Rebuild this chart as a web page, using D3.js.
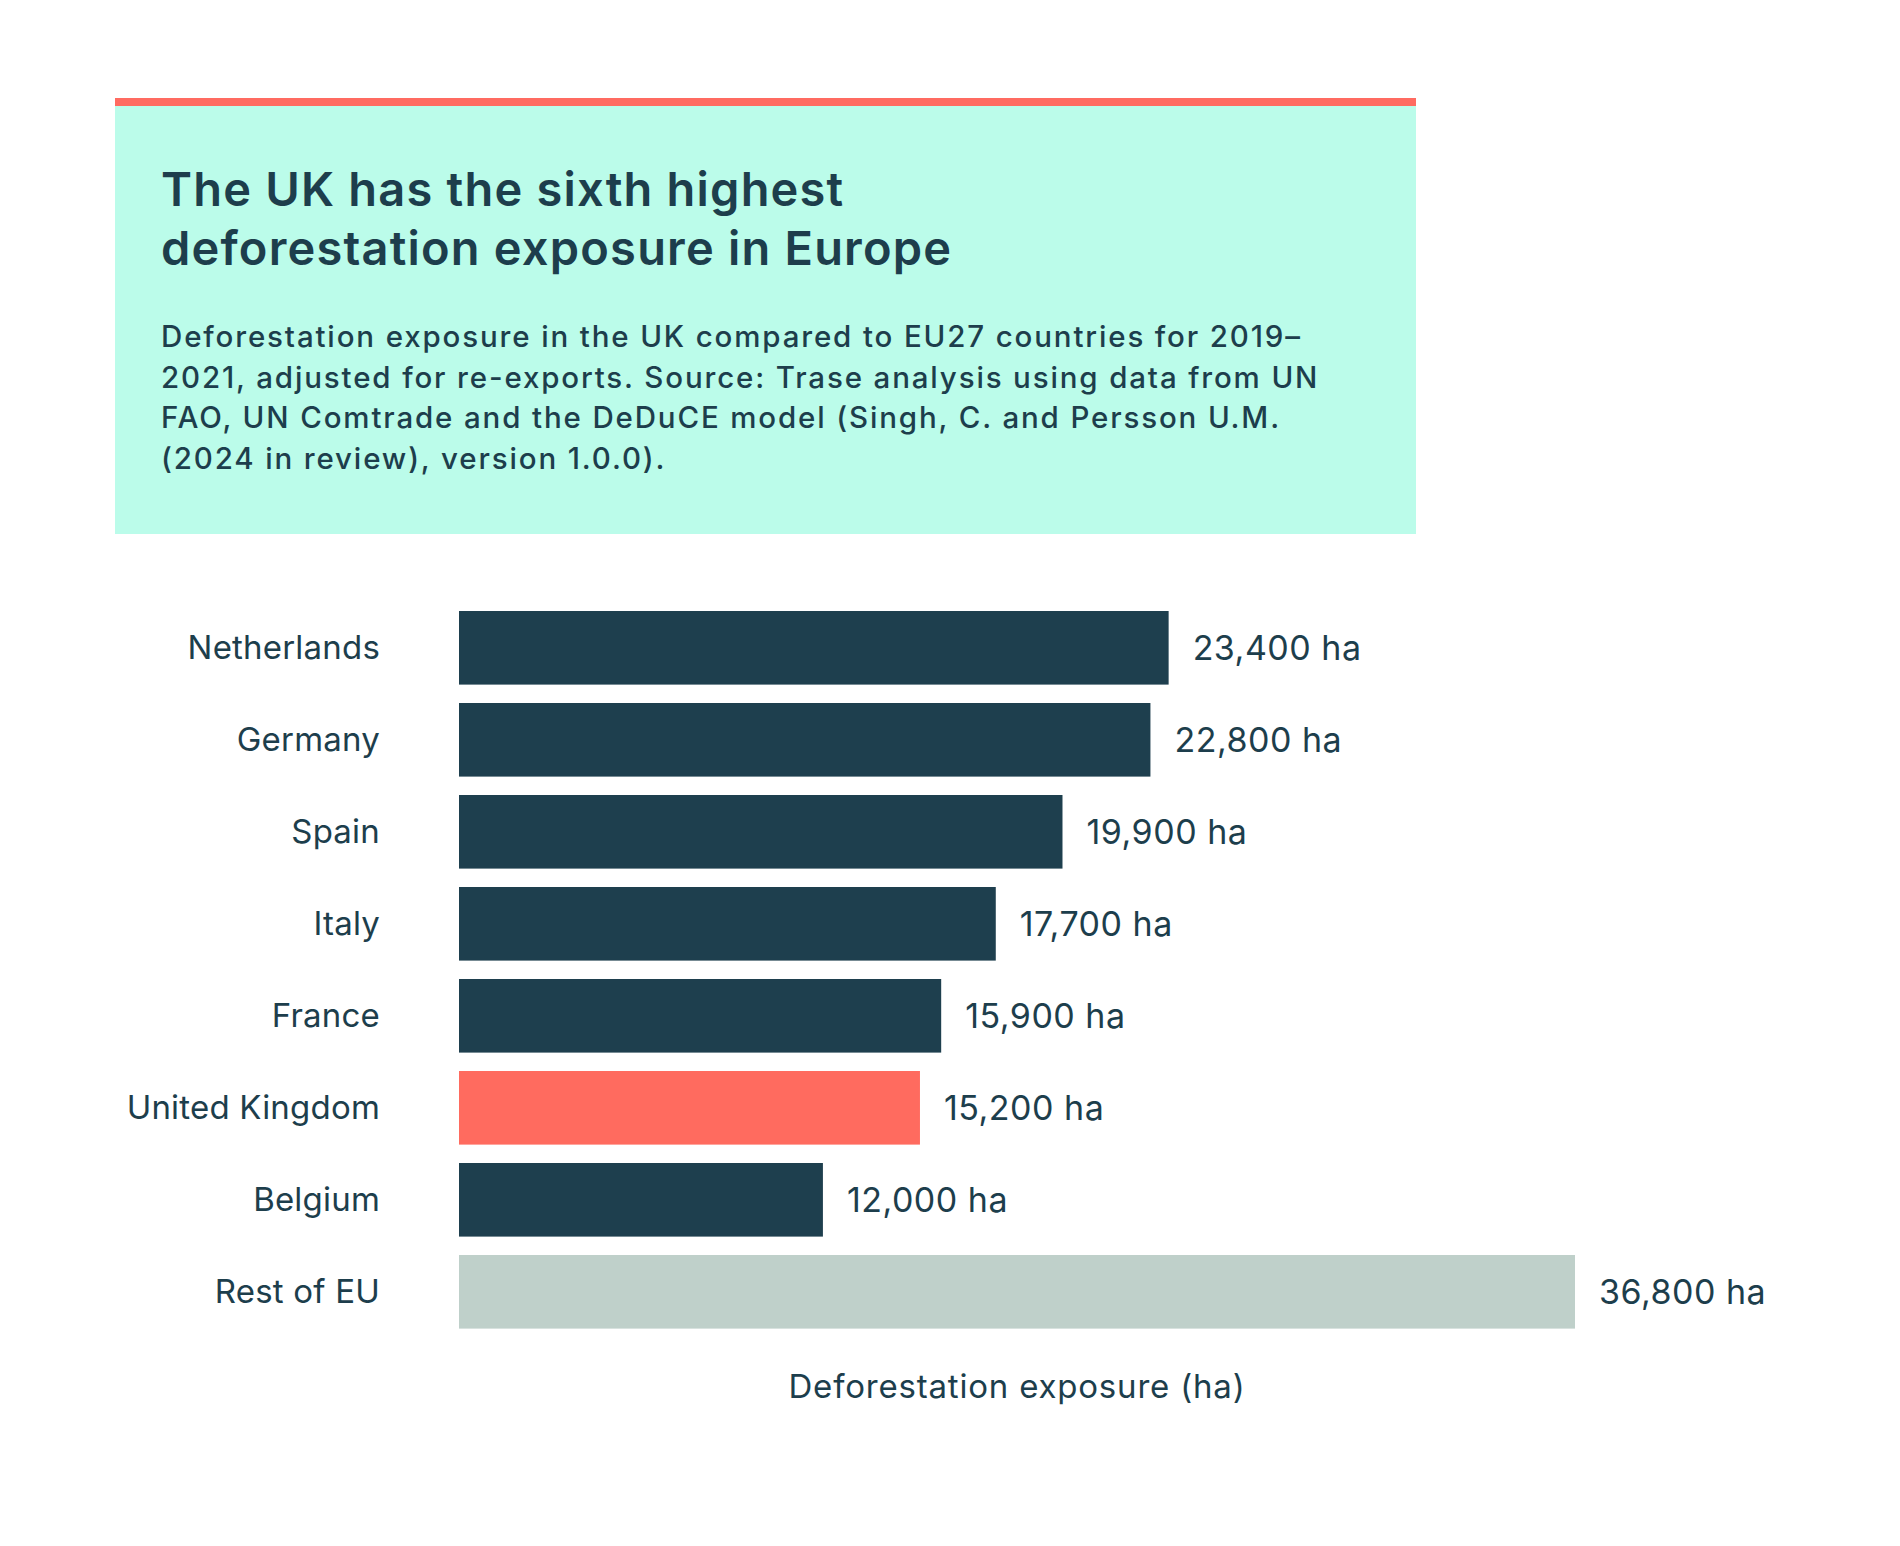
<!DOCTYPE html>
<html>
<head>
<meta charset="utf-8">
<script src="https://cdn.jsdelivr.net/npm/d3@7"></script>
<style>
  html, body { margin: 0; padding: 0; background: #ffffff; }
  svg { display: block; }
  text { font-family: Inter, "Noto Sans", sans-serif; fill: #1d3e4c; }
</style>
</head>
<body>
<svg id="chart" width="1900" height="1546"></svg>
<script>
// ---- data ----
const categories = ["Netherlands", "Germany", "Spain", "Italy", "France", "United Kingdom", "Belgium", "Rest of EU"];
const values = [23400, 22800, 19900, 17700, 15900, 15200, 12000, 36800];
const barGroups = ["country", "country", "country", "country", "country", "uk", "country", "rest"];
const titleLines = ["The UK has the sixth highest", "deforestation exposure in Europe"];
const subtitleLines = [
  "Deforestation exposure in the UK compared to EU27 countries for 2019\u2013",
  "2021, adjusted for re-exports. Source: Trase analysis using data from UN",
  "FAO, UN Comtrade and the DeDuCE model (Singh, C. and Persson U.M.",
  "(2024 in review), version 1.0.0)."
];
const axisTitle = "Deforestation exposure (ha)";
const unitSuffix = " ha";

// ---- styles ----
const colors = { country: "#1e3f4e", uk: "#ff6b5f", rest: "#bfd0ca" };
const mint = "#bbfcea";
const accent = "#ff6b61";
const ink = "#1d3e4c";

const svg = d3.select("#chart");
svg.append("rect").attr("width", 1900).attr("height", 1546).attr("fill", "#ffffff");

// ---- header box ----
const box = { x: 115, y: 98, w: 1301, accentH: 8, bottom: 534 };
svg.append("rect").attr("x", box.x).attr("y", box.y + box.accentH)
  .attr("width", box.w).attr("height", box.bottom - box.y - box.accentH).attr("fill", mint);
svg.append("rect").attr("x", box.x).attr("y", box.y)
  .attr("width", box.w).attr("height", box.accentH).attr("fill", accent);

svg.append("g").selectAll("text").data(titleLines).join("text")
  .attr("x", 161).attr("y", (d, i) => 206 + i * 59)
  .attr("font-size", 47).attr("font-weight", 600)
  .attr("letter-spacing", 1.2)
  .style("fill", ink)
  .text(d => d);

svg.append("g").selectAll("text").data(subtitleLines).join("text")
  .attr("x", 161).attr("y", (d, i) => 347 + i * 40.7)
  .attr("font-size", 29.5).attr("font-weight", 500)
  .attr("letter-spacing", 1.85)
  .style("fill", ink)
  .text(d => d);

// ---- bar chart ----
const xLeft = 459;
const x = d3.scaleLinear().domain([0, d3.max(values)]).range([xLeft, 1575]);
const y = d3.scaleBand().domain(categories).range([601.8, 1337.8]).paddingInner(0.2).paddingOuter(0.1);

const rows = categories.map((c, i) => ({ c, v: values[i], g: barGroups[i] }));

svg.append("g").selectAll("rect").data(rows).join("rect")
  .attr("x", x(0))
  .attr("y", d => y(d.c))
  .attr("width", d => x(d.v) - x(0))
  .attr("height", y.bandwidth())
  .attr("fill", d => colors[d.g]);

// category labels (axis)
const yAxis = d3.axisLeft(y).tickSize(0).tickPadding(0);
const ya = svg.append("g").attr("transform", "translate(380,0)").call(yAxis);
ya.select(".domain").remove();
ya.selectAll("text")
  .attr("font-size", 33).attr("font-family", "Inter, 'Noto Sans', sans-serif")
  .attr("font-weight", 400)
  .attr("letter-spacing", 0.2)
  .style("fill", ink)
  .attr("dy", "0.35em");

// value labels
const fmt = d3.format(",");
svg.append("g").selectAll("text").data(rows).join("text")
  .attr("x", d => x(d.v) + 24)
  .attr("y", d => y(d.c) + y.bandwidth() / 2)
  .attr("dy", "0.35em")
  .attr("font-size", 34)
  .attr("letter-spacing", 0.5)
  .style("fill", ink)
  .text(d => fmt(d.v) + unitSuffix);

// axis title
svg.append("text")
  .attr("x", (x.range()[0] + x.range()[1]) / 2)
  .attr("y", 1398)
  .attr("text-anchor", "middle")
  .attr("font-size", 33)
  .attr("letter-spacing", 0.8)
  .style("fill", ink)
  .text(axisTitle);
</script>
</body>
</html>
